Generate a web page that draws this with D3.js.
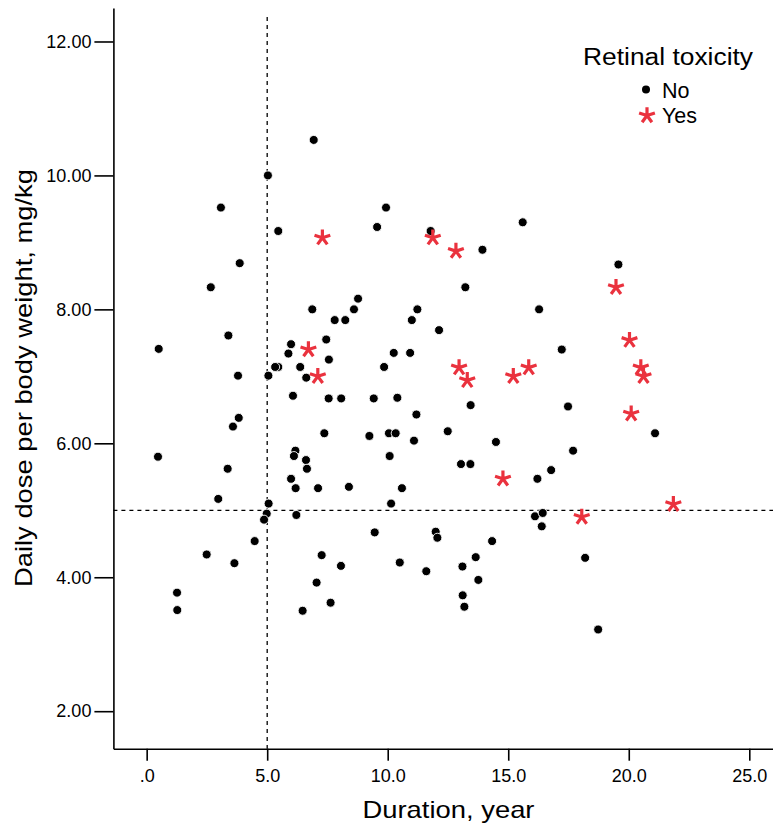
<!DOCTYPE html>
<html>
<head>
<meta charset="utf-8">
<script src="https://cdn.jsdelivr.net/npm/d3@7"></script>
<style>
  body { margin: 0; background: #fff; }
  text { font-family: "Liberation Sans", Arial, sans-serif; fill: #000; }
  .tick text { font-family: "Liberation Sans Narrow", "Arial Narrow", "Liberation Sans", sans-serif; }
</style>
</head>
<body>
<svg id="chart"></svg>
<script>
const width = 773;
const height = 830;

// Retinal toxicity = No
const noDuration = [6.93, 5.03, 3.08, 9.93, 5.46, 9.56, 11.78, 3.86, 13.93, 15.60, 19.57, 2.66, 0.50, 3.39, 3.79,
  5.05, 5.46, 5.33, 5.99, 5.88, 6.37, 6.62, 6.87, 7.45, 7.56, 7.80, 8.24, 8.60, 8.77, 6.07, 7.55, 8.07, 9.42,
  10.40, 9.85, 10.25, 10.93, 11.00, 11.23, 12.13, 3.82, 3.58, 7.37, 9.24, 10.05, 10.33, 11.19, 11.09, 0.47,
  6.17, 6.11, 6.61, 6.65, 3.36, 5.99, 6.18, 7.11, 8.39, 10.08, 10.59, 2.97, 5.06, 10.14, 4.98, 6.21, 4.87,
  4.48, 2.49, 3.64, 1.26, 1.27, 7.26, 8.06, 7.05, 7.63, 6.47, 9.46, 10.50, 11.60, 11.99, 12.06, 14.33, 13.65,
  13.10, 13.76, 13.11, 13.18, 16.11, 16.43, 16.39, 18.19, 18.73, 13.22, 16.28, 17.22, 13.44, 17.48, 21.09,
  12.49, 14.49, 17.69, 13.04, 13.43, 16.78, 16.21];
const noDose = [10.53, 10.00, 9.52, 9.52, 9.17, 9.23, 9.17, 8.69, 8.89, 9.30, 8.67, 8.33, 7.41, 7.61, 7.01,
  7.01, 7.14, 7.14, 7.48, 7.34, 7.14, 6.98, 8.00, 7.55, 7.25, 7.84, 7.84, 8.00, 8.16, 6.71, 6.67, 6.67, 6.67,
  6.68, 7.14, 7.35, 7.35, 7.84, 8.00, 7.69, 6.38, 6.25, 6.15, 6.11, 6.15, 6.15, 6.43, 6.04, 5.80,
  5.89, 5.81, 5.75, 5.62, 5.62, 5.47, 5.33, 5.33, 5.35, 5.81, 5.33, 5.17, 5.10, 5.10, 4.95, 4.93, 4.86,
  4.54, 4.34, 4.21, 3.77, 3.51, 4.33, 4.17, 3.92, 3.62, 3.50, 4.67, 4.22, 4.09, 4.68, 4.59, 4.54, 4.30,
  4.16, 3.96, 3.73, 3.56, 4.91, 4.96, 4.76, 4.29, 3.22, 8.33, 8.00, 7.40, 6.57, 6.55, 6.15,
  6.18, 6.02, 5.89, 5.69, 5.69, 5.60, 5.47];

// Retinal toxicity = Yes
const yesDuration = [7.29, 11.87, 12.83, 6.71, 7.10, 19.47, 20.03, 20.50, 20.61, 12.96, 13.30, 15.21, 15.85,
  20.10, 14.78, 18.05, 21.85];
const yesDose = [9.07, 9.07, 8.87, 7.40, 7.00, 8.33, 7.54, 7.13, 7.00, 7.13, 6.94, 7.00, 7.13,
  6.44, 5.47, 4.90, 5.09];

const xTicks = [0, 5, 10, 15, 20, 25];
const yTicks = [2, 4, 6, 8, 10, 12];
const cutDuration = 5;
const cutDose = 5;

const red = "#ea323e";

const svg = d3.select("#chart")
  .attr("width", width)
  .attr("height", height);

const x = d3.scaleLinear().domain([-1.38, 26]).range([113.4, 773.4]);
const y = d3.scaleLinear().domain([1.44, 12.5]).range([748.7, 8]);

// reference lines
svg.append("line")
  .attr("x1", x(cutDuration)).attr("x2", x(cutDuration))
  .attr("y1", 17).attr("y2", y.range()[0])
  .attr("stroke", "#000").attr("stroke-width", 1.3)
  .attr("stroke-dasharray", "4,4");
svg.append("line")
  .attr("x1", x.range()[0]).attr("x2", width)
  .attr("y1", y(cutDose)).attr("y2", y(cutDose))
  .attr("stroke", "#000").attr("stroke-width", 1.3)
  .attr("stroke-dasharray", "4,4");

// axes
const xAxis = svg.append("g")
  .attr("transform", `translate(0,${y.range()[0]})`)
  .call(d3.axisBottom(x).tickValues(xTicks).tickSize(12).tickSizeOuter(0).tickPadding(9)
    .tickFormat(d => d === 0 ? ".0" : d.toFixed(1)));
const yAxis = svg.append("g")
  .attr("transform", `translate(${x.range()[0]},0)`)
  .call(d3.axisLeft(y).tickValues(yTicks).tickSize(19).tickSizeOuter(0).tickPadding(3)
    .tickFormat(d => d.toFixed(2)));

[xAxis, yAxis].forEach(g => {
  g.select(".domain").attr("stroke", "#000").attr("stroke-width", 1.6);
  g.selectAll(".tick line").attr("stroke", "#000").attr("stroke-width", 1.6);
  g.selectAll(".tick text").attr("font-size", 18).attr("fill", "#222");
});

// points
const star = d3.range(5).map(i => {
  const a = (-90 + i * 72) * Math.PI / 180;
  return `M0,0L${(8.3 * Math.cos(a)).toFixed(2)},${(8.3 * Math.sin(a)).toFixed(2)}`;
}).join("");

svg.append("g")
  .selectAll("circle")
  .data(d3.zip(noDuration, noDose))
  .join("circle")
  .attr("cx", d => x(d[0]))
  .attr("cy", d => y(d[1]))
  .attr("r", 4.5)
  .attr("fill", "#000")
  .attr("stroke", "#fff")
  .attr("stroke-width", 0.9);

svg.append("g")
  .selectAll("path")
  .data(d3.zip(yesDuration, yesDose))
  .join("path")
  .attr("transform", d => `translate(${x(d[0])},${y(d[1])})`)
  .attr("d", star)
  .attr("fill", "none")
  .attr("stroke", red)
  .attr("stroke-width", 3.2);

// axis titles
svg.append("text")
  .attr("transform", "translate(32,378) rotate(-90)")
  .attr("text-anchor", "middle")
  .attr("font-size", 24)
  .attr("textLength", 418)
  .attr("lengthAdjust", "spacingAndGlyphs")
  .text("Daily dose per body weight, mg/kg");

svg.append("text")
  .attr("x", 448.5)
  .attr("y", 818)
  .attr("text-anchor", "middle")
  .attr("font-size", 24)
  .attr("textLength", 172)
  .attr("lengthAdjust", "spacingAndGlyphs")
  .text("Duration, year");

// legend
const legend = svg.append("g");
legend.append("text")
  .attr("x", 583).attr("y", 65)
  .attr("font-size", 23)
  .attr("textLength", 170)
  .attr("lengthAdjust", "spacingAndGlyphs")
  .text("Retinal toxicity");
legend.append("circle")
  .attr("cx", 646).attr("cy", 89.5).attr("r", 4).attr("fill", "#000");
legend.append("text")
  .attr("x", 662).attr("y", 98)
  .attr("font-size", 21.5)
  .text("No");
legend.append("path")
  .attr("transform", "translate(647,115.5)")
  .attr("d", star)
  .attr("fill", "none")
  .attr("stroke", red)
  .attr("stroke-width", 3.2);
legend.append("text")
  .attr("x", 662).attr("y", 123)
  .attr("font-size", 21.5)
  .text("Yes");
</script>
</body>
</html>
